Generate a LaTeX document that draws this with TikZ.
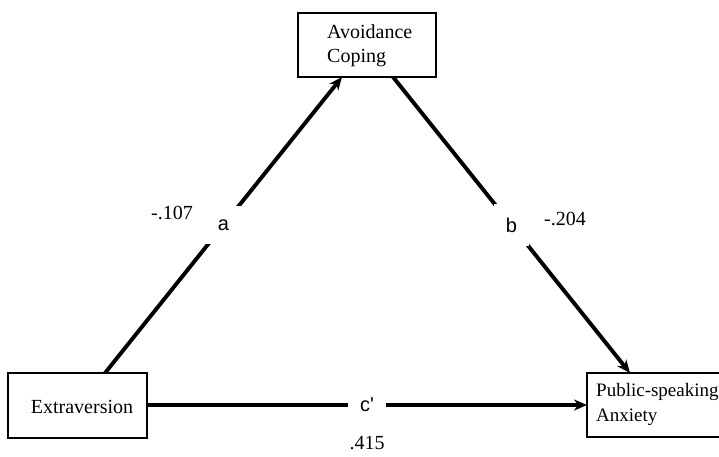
\documentclass[tikz,border=0pt]{standalone}
\usepackage{fontspec}
\setmainfont{Liberation Serif}
\newfontfamily\lblfont{Liberation Sans}
\usetikzlibrary{arrows.meta}
\begin{document}
\begin{tikzpicture}[x=1pt,y=-1pt,
  boxnode/.style={draw, line width=1.8pt, minimum width=#1, minimum height=64pt, inner sep=0pt, outer sep=0pt},
  txt/.style={font=\fontsize{20}{24.5}\selectfont, inner sep=0pt, align=left},
  conn/.style={line width=3.9pt, -{Stealth[length=13pt,width=11pt]}},
  lbl/.style={fill=white, font=\lblfont\fontsize{20}{24}\selectfont, inner xsep=12pt, inner ysep=14pt},
  num/.style={font=\fontsize{20}{24}\selectfont, inner sep=0pt}]
\useasboundingbox (0,0) rectangle (719,456);
\fill[white] (0,0) rectangle (719,456);
% boxes
\node[boxnode=138pt] (av) at (367,45) {};
\node[txt, anchor=west] (avt) at (327,45.5) {Avoidance\\Coping};
\node[boxnode=139pt, minimum height=65pt] (ext) at (77.5,405.5) {};
\node[txt] (extt) at (82,407) {Extraversion};
\node[boxnode=133pt] (psa) at (653.5,405) {};
\node[txt, anchor=west, font=\fontsize{19}{24.5}\selectfont] (psat) at (596,404.5) {Public-speaking\\Anxiety};
% connectors
\draw[conn] ([xshift=27.5pt]ext.north) -- node[lbl] (la) {a} ([xshift=-25pt]av.south);
\draw[conn] ([xshift=26pt]av.south) -- node[lbl] (lb) {b} ([xshift=-23.5pt]psa.north);
\draw[conn] (ext.east |- psa.west) -- node[lbl] (lc) {c'} (psa.west);
% coefficients
\node[num] (na) at (172,213) {-.107};
\node[num] (nb) at (565,219) {-.204};
\node[num] (nc) at (367,443) {.415};
\end{tikzpicture}
\end{document}
